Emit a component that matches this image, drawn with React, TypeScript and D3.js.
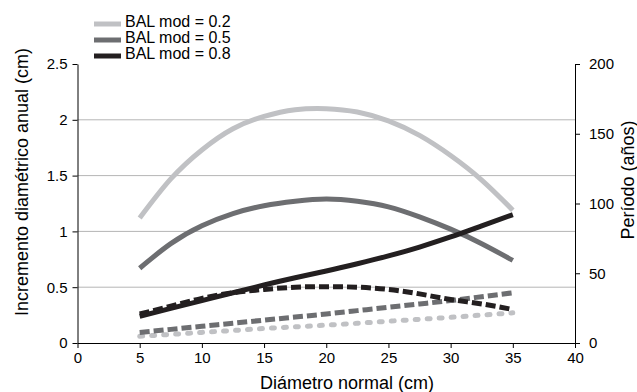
import React, { useEffect, useRef } from "react";
import * as d3 from "d3";

const diameters = [5, 7.5, 10, 12.5, 15, 17.5, 20, 22.5, 25, 27.5, 30, 32.5, 35];
// Solid lines (read on left axis, cm)
const solid02 = [1.12, 1.47, 1.73, 1.92, 2.03, 2.09, 2.1, 2.07, 1.99, 1.86, 1.68, 1.46, 1.19];
const solid05 = [0.67, 0.89, 1.05, 1.16, 1.23, 1.27, 1.29, 1.27, 1.22, 1.13, 1.02, 0.89, 0.74];
const solid08 = [0.24, 0.31, 0.38, 0.45, 0.52, 0.585, 0.645, 0.71, 0.78, 0.86, 0.95, 1.05, 1.15];
// Dashed lines (read on left axis scale)
const dashed02 = [0.06, 0.077, 0.095, 0.112, 0.13, 0.145, 0.16, 0.177, 0.195, 0.212, 0.23, 0.25, 0.27];
const dashed05 = [0.095, 0.122, 0.15, 0.177, 0.205, 0.232, 0.26, 0.29, 0.32, 0.35, 0.38, 0.415, 0.45];
const dashed08 = [0.26, 0.33, 0.4, 0.45, 0.48, 0.5, 0.505, 0.5, 0.48, 0.44, 0.39, 0.35, 0.3];

const xTicks = [0, 5, 10, 15, 20, 25, 30, 35, 40];
const yLeftTicks = [0, 0.5, 1, 1.5, 2, 2.5];
const yRightTicks = [0, 50, 100, 150, 200];
const gridTicks = [0.5, 1, 1.5, 2];
const legendLabels = ["BAL mod = 0.2", "BAL mod = 0.5", "BAL mod = 0.8"];

const C_LIGHT = "#c0c1c4";
const C_MID = "#6d6e71";
const C_DARK = "#231f20";
const FONT = "'Liberation Sans', Arial, sans-serif";

export default function App() {
  const ref = useRef<SVGSVGElement | null>(null);

  useEffect(() => {
    const svg = d3.select(ref.current);
    svg.selectAll("*").remove();

    const x = d3.scaleLinear().domain([0, 40]).range([77.5, 575]);
    const yL = d3.scaleLinear().domain([0, 2.5]).range([343, 64]);
    const yR = d3.scaleLinear().domain([0, 200]).range([343, 64]);

    // grid
    svg.append("g")
      .selectAll("line")
      .data(gridTicks)
      .join("line")
      .attr("x1", x(0)).attr("x2", x(40))
      .attr("y1", (d) => yL(d)).attr("y2", (d) => yL(d))
      .attr("stroke", "#b5b5b5").attr("stroke-width", 1);

    // axes
    const gx = svg.append("g").attr("transform", `translate(0,${yL(0)})`)
      .call(d3.axisBottom(x).tickValues(xTicks).tickSize(5).tickSizeOuter(0).tickFormat(d3.format("d")));
    const gl = svg.append("g").attr("transform", `translate(${x(0)},0)`)
      .call(d3.axisLeft(yL).tickValues(yLeftTicks).tickSize(5).tickSizeOuter(0).tickFormat((d) => String(d)));
    const gr = svg.append("g").attr("transform", `translate(${x(40)},0)`)
      .call(d3.axisRight(yR).tickValues(yRightTicks).tickSize(5).tickSizeOuter(0).tickFormat(d3.format("d")));
    [gx, gl, gr].forEach((g) => {
      g.selectAll("path").attr("stroke", "#000").attr("stroke-width", 1);
      g.selectAll("line").attr("stroke", "#000").attr("stroke-width", 1);
      g.selectAll("text").attr("font-family", FONT).attr("font-size", 15).attr("fill", "#000");
    });
    gx.selectAll("text").attr("dy", "0.95em").attr("y", 6);
    gl.selectAll("text").attr("x", -10);
    gr.selectAll("text").attr("x", 14);

    const line = (vals: number[]) =>
      d3.line<number>()
        .x((_, i) => x(diameters[i]))
        .y((d) => yL(d))
        .curve(d3.curveNatural)(vals);

    const series = [
      { v: dashed02, c: C_LIGHT, dash: "3 9", cap: "round" },
      { v: dashed05, c: C_MID, dash: "10 4", cap: "butt" },
      { v: dashed08, c: C_DARK, dash: "10 4", cap: "butt" },
      { v: solid02, c: C_LIGHT, dash: null, cap: "butt" },
      { v: solid05, c: C_MID, dash: null, cap: "butt" },
      { v: solid08, c: C_DARK, dash: null, cap: "butt" },
    ];
    series.forEach((s) => {
      const p = svg.append("path")
        .attr("d", line(s.v))
        .attr("fill", "none")
        .attr("stroke", s.c)
        .attr("stroke-width", 5)
        .attr("stroke-linecap", s.cap);
      if (s.dash) p.attr("stroke-dasharray", s.dash);
    });

    // legend
    const lg = svg.append("g");
    const colors = [C_LIGHT, C_MID, C_DARK];
    legendLabels.forEach((lab, i) => {
      const yy = 24 + i * 16;
      lg.append("line").attr("x1", 94).attr("x2", 121).attr("y1", yy).attr("y2", yy)
        .attr("stroke", colors[i]).attr("stroke-width", 5);
      lg.append("text").attr("x", 125).attr("y", yy + 3).text(lab)
        .attr("font-family", FONT).attr("font-size", 16).attr("fill", "#000");
    });

    // titles
    svg.append("text").attr("x", 347).attr("y", 389)
      .attr("text-anchor", "middle").attr("font-family", FONT).attr("font-size", 18)
      .text("Diámetro normal (cm)");
    svg.append("text").attr("transform", `translate(28,182) rotate(-90)`)
      .attr("text-anchor", "middle").attr("font-family", FONT).attr("font-size", 18)
      .text("Incremento diamétrico anual (cm)");
    svg.append("text").attr("transform", `translate(634,180) rotate(-90)`)
      .attr("text-anchor", "middle").attr("font-family", FONT).attr("font-size", 18)
      .text("Período (años)");
  }, []);

  return (
    <svg ref={ref} width={637} height={392}
      style={{ position: "absolute", left: 0, top: 0, background: "#fff" }} />
  );
}
